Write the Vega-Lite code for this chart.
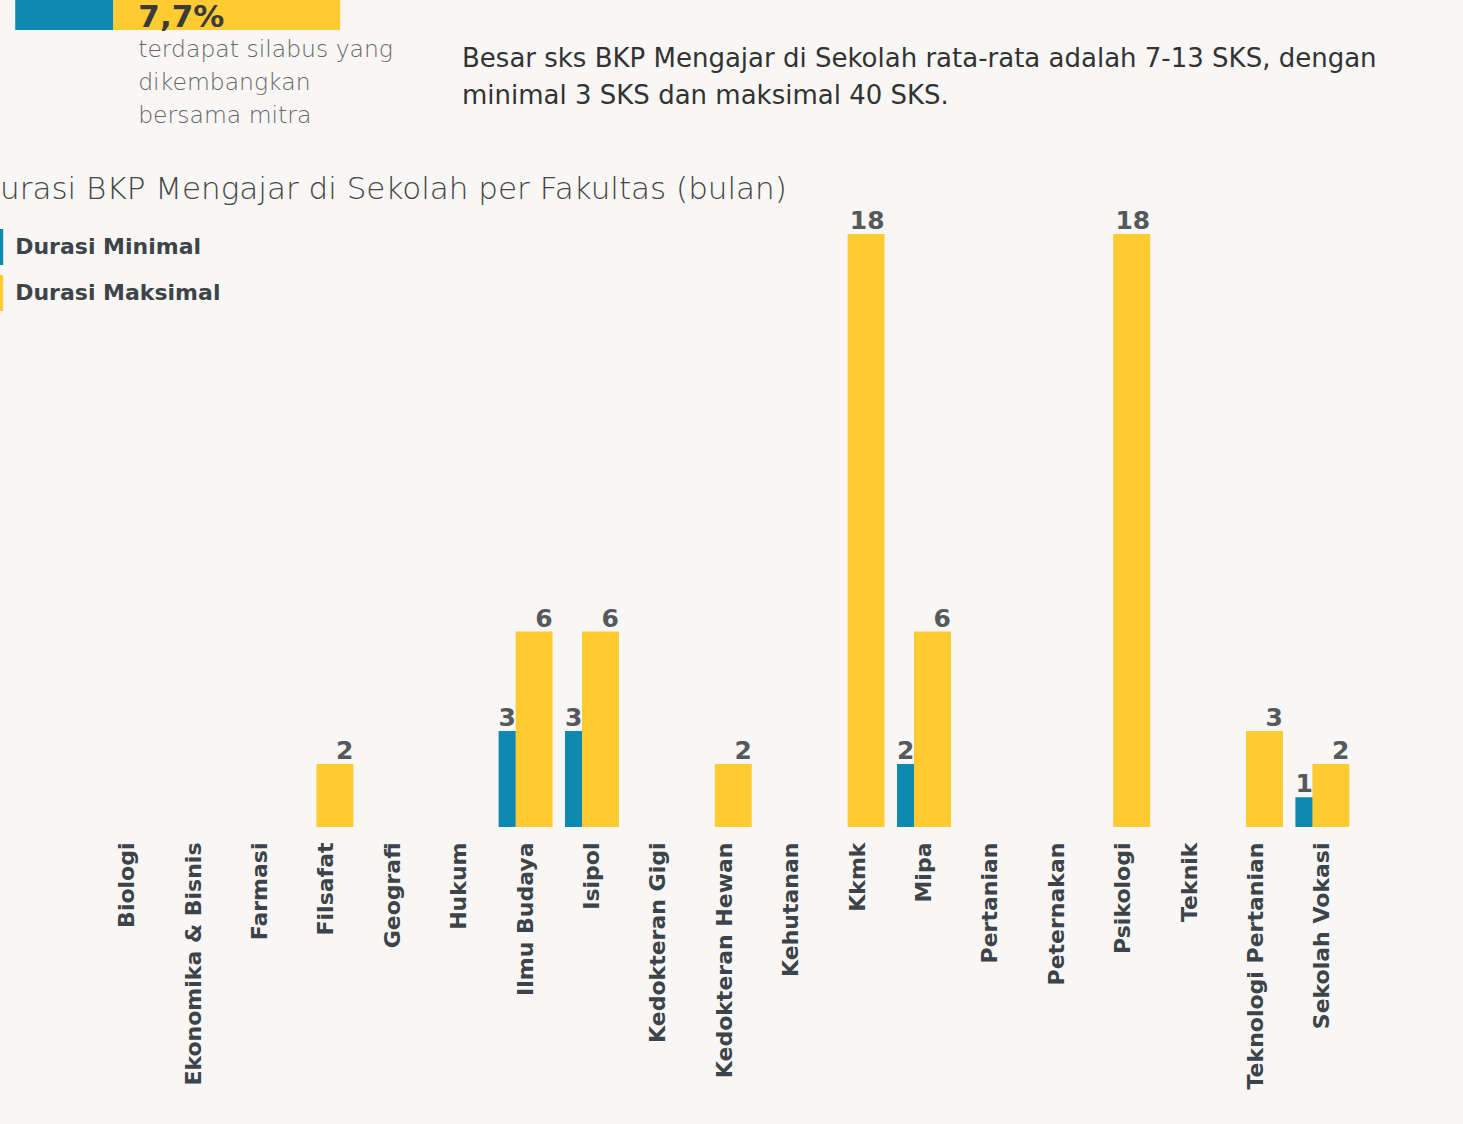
{
  "$schema": "https://vega.github.io/schema/vega-lite/v6.json",
  "background": "#f8f7f5",
  "padding": {"left": -24, "top": -4, "right": 10, "bottom": 50},
  "spacing": 46,
  "resolve": {"scale": {"color": "independent"}, "legend": {"color": "independent"}},
  "config": {
    "view": {"stroke": null},
    "font": "DejaVu Sans",
    "concat": {"spacing": 41}
  },
  "vconcat": [
    {
      "hconcat": [
        {
          "width": 326.2,
          "height": 34,
          "title": {
            "text": ["terdapat silabus yang", "dikembangkan", "bersama mitra"],
            "orient": "bottom",
            "anchor": "start",
            "frame": "group",
            "dx": 44.2,
            "offset": 5,
            "fontSize": 23.5,
            "fontWeight": 200,
            "color": "#666666",
            "lineHeight": 33
          },
          "layer": [
            {
              "data": {"values": [
                {"baris": "silabus", "bagian": "a", "awal": 0, "akhir": 30.2},
                {"baris": "silabus", "bagian": "b", "awal": 30.2, "akhir": 100}
              ]},
              "mark": {"type": "bar"},
              "encoding": {
                "x": {"field": "awal", "type": "quantitative", "scale": {"domain": [24.246, 124.62], "nice": false, "zero": false}, "axis": null},
                "x2": {"field": "akhir"},
                "y": {"field": "baris", "type": "nominal", "scale": {"paddingInner": 0, "paddingOuter": 0}, "axis": null},
                "color": {"field": "bagian", "type": "nominal", "scale": {"domain": ["a", "b"], "range": ["#0e8ab2", "#ffcb33"]}, "legend": null}
              }
            },
            {
              "data": {"values": [{"label": "7,7%", "posisi": 30.2}]},
              "mark": {"type": "text", "align": "left", "baseline": "alphabetic", "dx": 25, "dy": 14, "fontSize": 31, "fontWeight": 700, "color": "#3a3a3a"},
              "encoding": {
                "x": {"field": "posisi", "type": "quantitative"},
                "text": {"field": "label"}
              }
            }
          ]
        },
        {
          "width": 1000,
          "height": 34,
          "data": {"values": [{"kosong": ""}]},
          "title": {
            "text": ["Besar sks BKP Mengajar di Sekolah rata-rata adalah 7-13 SKS, dengan", "minimal 3 SKS dan maksimal 40 SKS."],
            "orient": "bottom",
            "anchor": "start",
            "frame": "group",
            "offset": 16,
            "fontSize": 26,
            "fontWeight": 400,
            "color": "#333333",
            "lineHeight": 37
          },
          "mark": {"type": "text"},
          "encoding": {"text": {"field": "kosong"}}
        }
      ]
    },
    {
      "height": 593,
      "width": {"step": 66.4},
      "title": {
        "text": "Durasi BKP Mengajar di Sekolah per Fakultas (bulan)",
        "anchor": "start",
        "frame": "group",
        "dx": -117.8,
        "offset": 3,
        "fontSize": 31,
        "fontWeight": 200,
        "color": "#444444"
      },
      "data": {"values": [
        {"fakultas": "Filsafat", "seri": "Durasi Maksimal", "nilai": 2},
        {"fakultas": "Ilmu Budaya", "seri": "Durasi Minimal", "nilai": 3},
        {"fakultas": "Ilmu Budaya", "seri": "Durasi Maksimal", "nilai": 6},
        {"fakultas": "Isipol", "seri": "Durasi Minimal", "nilai": 3},
        {"fakultas": "Isipol", "seri": "Durasi Maksimal", "nilai": 6},
        {"fakultas": "Kedokteran Hewan", "seri": "Durasi Maksimal", "nilai": 2},
        {"fakultas": "Kkmk", "seri": "Durasi Maksimal", "nilai": 18},
        {"fakultas": "Mipa", "seri": "Durasi Minimal", "nilai": 2},
        {"fakultas": "Mipa", "seri": "Durasi Maksimal", "nilai": 6},
        {"fakultas": "Psikologi", "seri": "Durasi Maksimal", "nilai": 18},
        {"fakultas": "Teknologi Pertanian", "seri": "Durasi Maksimal", "nilai": 3},
        {"fakultas": "Sekolah Vokasi", "seri": "Durasi Minimal", "nilai": 1},
        {"fakultas": "Sekolah Vokasi", "seri": "Durasi Maksimal", "nilai": 2}
      ]},
      "encoding": {
        "x": {
          "field": "fakultas",
          "type": "nominal",
          "sort": null,
          "scale": {
            "domain": ["Biologi", "Ekonomika & Bisnis", "Farmasi", "Filsafat", "Geografi", "Hukum", "Ilmu Budaya", "Isipol", "Kedokteran Gigi", "Kedokteran Hewan", "Kehutanan", "Kkmk", "Mipa", "Pertanian", "Peternakan", "Psikologi", "Teknik", "Teknologi Pertanian", "Sekolah Vokasi"],
            "paddingInner": 0.443,
            "paddingOuter": 0.2215
          },
          "axis": {
            "title": null,
            "labelAngle": -90,
            "labelAlign": "right",
            "labelBaseline": "middle",
            "labelFontSize": 22,
            "labelFontWeight": 600,
            "labelColor": "#3d4449",
            "labelPadding": 15,
            "labelLimit": 0,
            "ticks": false,
            "domain": false,
            "grid": false,
            "labelOverlap": false
          }
        },
        "y": {
          "field": "nilai",
          "type": "quantitative",
          "scale": {"domain": [0.1, 18], "zero": false, "nice": false, "clamp": true},
          "axis": null
        }
      },
      "layer": [
        {
          "transform": [{"filter": "datum.seri === 'Durasi Minimal'"}],
          "mark": {"type": "bar", "xOffset": -8.5},
          "encoding": {
            "y2": {"datum": 0},
            "color": {
              "field": "seri",
              "type": "nominal",
              "scale": {"domain": ["Durasi Minimal", "Durasi Maksimal"], "range": ["#0e8ab2", "#ffcb33"]},
              "legend": {
                "title": null,
                "orient": "none",
                "legendX": -103.8,
                "legendY": 2,
                "symbolType": "M-1,-9V9H1V-9Z",
                "symbolSize": 16,
                "symbolStrokeWidth": 0,
                "symbolOpacity": 1,
                "labelFontSize": 22,
                "labelFontWeight": 600,
                "labelColor": "#3d4449",
                "labelOffset": 3,
                "labelLimit": 0,
                "rowPadding": 10,
                "direction": "vertical"
              }
            }
          }
        },
        {
          "transform": [{"filter": "datum.seri === 'Durasi Maksimal'"}],
          "mark": {"type": "bar", "xOffset": 8.5},
          "encoding": {
            "y2": {"datum": 0},
            "color": {"field": "seri", "type": "nominal"}
          }
        },
        {
          "transform": [{"filter": "datum.seri === 'Durasi Minimal'"}],
          "mark": {"type": "text", "align": "left", "baseline": "alphabetic", "dx": -8.5, "dy": -5, "fontSize": 25, "fontWeight": 700, "color": "#55595c"},
          "encoding": {
            "x": {"field": "fakultas", "type": "nominal", "sort": null, "bandPosition": 0},
            "text": {"field": "nilai", "type": "quantitative"}
          }
        },
        {
          "transform": [{"filter": "datum.seri === 'Durasi Maksimal'"}],
          "mark": {"type": "text", "align": "right", "baseline": "alphabetic", "dx": 8.5, "dy": -5, "fontSize": 25, "fontWeight": 700, "color": "#55595c"},
          "encoding": {
            "x": {"field": "fakultas", "type": "nominal", "sort": null, "bandPosition": 1},
            "text": {"field": "nilai", "type": "quantitative"}
          }
        }
      ]
    }
  ]
}
